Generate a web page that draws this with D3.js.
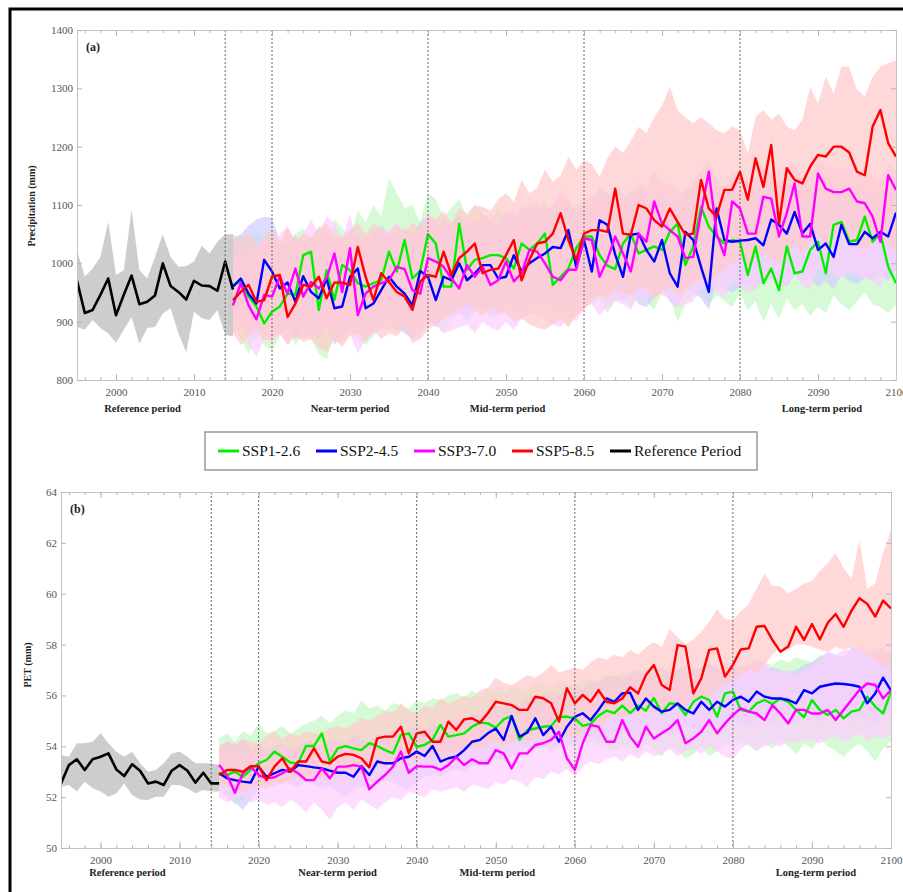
<!DOCTYPE html>
<html>
<head>
<meta charset="utf-8">
<script src="https://cdn.jsdelivr.net/npm/d3@7"></script>
<style>
  body { margin: 0; background: #fff; }
  svg text { font-family: "Liberation Serif", "Times New Roman", "DejaVu Serif", serif; }
  .axis .domain { stroke: #c4c4c4; }
  .axis line { stroke: #b4b4b4; }
  .axis text { fill: #555; font-size: 11px; }
</style>
</head>
<body>
<script>
"use strict";

var width = 903,
    height = 892;

// years
var refYears = d3.range(1995, 2016),
    sspYears = d3.range(2015, 2101),
    periodBreaks = [2014, 2020, 2040, 2060, 2080],
    xTickYears = d3.range(2000, 2101, 10),
    xMinorYears = d3.range(1996, 2101, 2),
    periodNames = ["Reference period", "Near-term period", "Mid-term period", "Long-term period"],
    periodCentres = [2003.4, 2030, 2050.2, 2090.5];

var seriesNames = ["SSP1-2.6", "SSP2-4.5", "SSP3-7.0", "SSP5-8.5", "Reference Period"],
    seriesColors = ["#00f000", "#0000ff", "#ff00ff", "#ff0000", "#000000"],
    bandColors = ["#c6f7c6", "#cfcffd", "#fccffc", "#ffcaca"];

// ---------- (a) precipitation (mm) ----------
var precipTicks = d3.range(800, 1401, 100);

var precipRef = [970, 915, 920, 946, 974, 911, 946, 979, 930, 934, 945, 1000, 961, 951, 938, 970, 962, 961, 953, 1003, 955];
var precipRefHi = [1023, 977, 991, 1011, 1071, 980, 988, 1092, 988, 974, 1011, 1050, 1011, 994, 995, 1003, 1030, 1017, 1037, 1050, 1050];
var precipRefLo = [891, 886, 903, 889, 880, 864, 886, 908, 862, 889, 891, 914, 923, 880, 847, 917, 906, 903, 920, 877, 875];

var precipSsp126 = [963, 968, 943, 926, 897, 917, 926, 948, 946, 1014, 1020, 920, 988, 937, 997, 988, 966, 960, 966, 971,
  1020, 986, 1040, 974, 987, 1050, 1034, 960, 960, 1068, 989, 1006, 1009, 1014, 1014, 1009, 991, 1034, 1023, 1034,
  1051, 963, 977, 991, 1026, 1046, 1046, 1014, 996, 990, 1034, 1051, 1017, 1023, 1029, 1023, 1054, 1068, 997, 1029,
  1097, 1063, 1046, 1034, 1040, 1037, 980, 1029, 966, 991, 954, 1029, 983, 986, 1023, 1037, 983, 1066, 1071, 1037,
  1040, 1080, 1037, 1051, 994, 966];
var precipSsp245 = [960, 974, 948, 931, 1006, 986, 957, 967, 934, 978, 951, 940, 974, 923, 926, 977, 991, 923, 931, 954,
  977, 960, 948, 928, 987, 977, 937, 977, 971, 1000, 971, 983, 997, 997, 974, 977, 1014, 986, 1000, 1009,
  1017, 1028, 1026, 1057, 994, 1040, 986, 1074, 1066, 1015, 977, 1049, 1051, 1023, 1003, 1040, 983, 960, 1054, 1040,
  994, 951, 1094, 1040, 1037, 1039, 1040, 1043, 1031, 1075, 1066, 1051, 1088, 1051, 1068, 1023, 1034, 1011, 1066, 1033,
  1033, 1054, 1043, 1054, 1046, 1087];
var precipSsp370 = [928, 966, 928, 904, 946, 943, 977, 948, 991, 943, 968, 957, 974, 1017, 951, 1026, 911, 948, 960, 966,
  971, 994, 990, 954, 948, 1009, 1003, 994, 974, 957, 997, 977, 994, 963, 971, 1003, 969, 983, 1023, 1020,
  1000, 977, 971, 989, 989, 1043, 1040, 977, 1006, 1046, 1017, 986, 1051, 1037, 1106, 1068, 1057, 1046, 1009, 1011,
  1086, 1157, 1051, 1014, 1106, 1094, 1051, 1051, 1114, 1111, 1046, 1086, 1137, 1046, 1046, 1154, 1128, 1122, 1122, 1128,
  1106, 1103, 1080, 1037, 1151, 1126];
var precipSsp585 = [937, 951, 963, 934, 937, 977, 980, 908, 931, 963, 960, 977, 940, 967, 967, 963, 1028, 977, 937, 983,
  968, 951, 943, 920, 969, 980, 977, 1020, 980, 1009, 1020, 1034, 983, 989, 991, 1014, 1040, 971, 1006, 1034,
  1037, 1051, 1086, 1040, 1006, 1051, 1057, 1057, 1054, 1128, 1051, 1049, 1100, 1094, 1074, 1063, 1094, 1071, 1049, 1051,
  1143, 1094, 1080, 1126, 1126, 1157, 1109, 1180, 1131, 1203, 1068, 1163, 1143, 1137, 1166, 1186, 1183, 1200, 1200, 1190,
  1157, 1151, 1234, 1263, 1206, 1183];

var precipSsp126Hi = [1045, 1050, 1040, 1060, 1035, 1055, 1030, 1020, 1050, 1060, 1040, 1065, 1030, 1075, 1060, 1045, 1090, 1070, 1100, 1080,
  1146, 1120, 1095, 1100, 1070, 1120, 1110, 1080, 1095, 1110, 1080, 1100, 1085, 1070, 1095, 1080, 1060, 1100, 1080, 1090,
  1110, 1070, 1090, 1080, 1100, 1110, 1095, 1090, 1080, 1100, 1110, 1120, 1090, 1105, 1130, 1095, 1110, 1120, 1090, 1120,
  1140, 1110, 1100, 1120, 1130, 1100, 1090, 1110, 1080, 1100, 1090, 1120, 1100, 1110, 1130, 1140, 1100, 1150, 1130, 1120,
  1140, 1150, 1120, 1130, 1100, 1080];
var precipSsp126Lo = [900, 870, 845, 880, 860, 850, 875, 890, 860, 880, 870, 845, 835, 880, 860, 885, 870, 860, 875, 890,
  900, 880, 890, 870, 900, 910, 895, 880, 905, 920, 900, 915, 930, 905, 920, 935, 910, 925, 940, 920,
  935, 900, 920, 890, 930, 945, 930, 940, 915, 935, 940, 925, 950, 935, 920, 950, 940, 900, 930, 945,
  950, 930, 945, 935, 925, 950, 920, 935, 900, 930, 905, 940, 920, 930, 910, 925, 915, 945, 930, 920,
  935, 950, 930, 925, 915, 930];
var precipSsp245Hi = [1040, 1050, 1065, 1075, 1080, 1078, 1040, 1030, 1050, 1020, 1045, 1030, 1055, 1035, 1040, 1060, 1045, 1030, 1050, 1065,
  1050, 1040, 1060, 1045, 1070, 1080, 1050, 1075, 1065, 1085, 1060, 1070, 1080, 1075, 1060, 1090, 1085, 1070, 1095, 1080,
  1090, 1100, 1095, 1110, 1085, 1105, 1100, 1130, 1120, 1110, 1100, 1125, 1130, 1110, 1100, 1120, 1105, 1090, 1130, 1120,
  1110, 1100, 1150, 1120, 1115, 1125, 1120, 1130, 1110, 1140, 1130, 1120, 1145, 1125, 1130, 1110, 1120, 1100, 1130, 1115,
  1110, 1125, 1115, 1120, 1110, 1140];
var precipSsp245Lo = [900, 910, 880, 870, 905, 890, 880, 895, 870, 900, 885, 870, 900, 860, 875, 890, 905, 870, 880, 895,
  900, 890, 880, 870, 900, 905, 890, 910, 905, 915, 905, 920, 925, 915, 910, 925, 935, 920, 930, 940,
  945, 950, 940, 955, 935, 960, 940, 965, 955, 945, 935, 950, 930, 925, 940, 955, 935, 925, 960, 950,
  940, 920, 965, 955, 950, 960, 965, 955, 970, 975, 965, 960, 980, 970, 975, 960, 970, 955, 980, 970,
  965, 975, 970, 980, 970, 990];
var precipSsp370Hi = [1000, 1020, 1010, 1030, 1040, 1025, 1050, 1063, 1030, 1050, 1075, 1050, 1080, 1070, 1040, 1085, 1030, 1050, 1045, 1060,
  1055, 1070, 1050, 1045, 1060, 1086, 1075, 1060, 1070, 1065, 1080, 1070, 1085, 1075, 1070, 1090, 1080, 1095, 1100, 1105,
  1090, 1100, 1126, 1105, 1095, 1110, 1120, 1100, 1115, 1125, 1120, 1110, 1140, 1130, 1160, 1140, 1135, 1130, 1120, 1140,
  1160, 1178, 1140, 1130, 1160, 1150, 1140, 1145, 1165, 1160, 1140, 1160, 1175, 1145, 1150, 1180, 1170, 1165, 1160, 1170,
  1160, 1155, 1150, 1140, 1170, 1160];
var precipSsp370Lo = [880, 890, 860, 840, 870, 865, 880, 860, 890, 870, 880, 875, 890, 870, 865, 880, 845, 870, 880, 890,
  885, 895, 890, 870, 875, 900, 895, 880, 885, 890, 895, 880, 900, 890, 885, 900, 886, 905, 915, 910,
  905, 895, 890, 910, 900, 925, 930, 910, 925, 935, 930, 920, 945, 935, 955, 945, 940, 925, 930, 935,
  955, 970, 950, 940, 965, 960, 950, 955, 975, 970, 955, 965, 985, 960, 955, 990, 985, 980, 975, 985,
  980, 975, 970, 960, 990, 985];
var precipSsp585Hi = [1050, 1040, 1055, 1030, 1045, 1060, 1035, 1063, 1040, 1050, 1045, 1060, 1068, 1050, 1045, 1055, 1070, 1050, 1068, 1060,
  1050, 1065, 1055, 1070, 1060, 1080, 1075, 1090, 1070, 1095, 1085, 1100, 1097, 1090, 1110, 1120, 1105, 1143, 1120, 1130,
  1160, 1140, 1150, 1183, 1160, 1177, 1170, 1148, 1180, 1200, 1190, 1210, 1234, 1223, 1250, 1270, 1303, 1263, 1250, 1240,
  1251, 1240, 1228, 1223, 1235, 1228, 1188, 1251, 1263, 1246, 1257, 1234, 1228, 1246, 1303, 1274, 1320, 1291, 1337, 1337,
  1297, 1286, 1320, 1337, 1343, 1348];
var precipSsp585Lo = [880, 860, 875, 890, 868, 870, 880, 860, 875, 865, 870, 855, 848, 870, 857, 875, 880, 865, 885, 870,
  880, 875, 890, 863, 870, 886, 895, 905, 915, 920, 931, 920, 910, 925, 915, 914, 900, 905, 895, 890,
  886, 895, 905, 890, 910, 920, 935, 945, 940, 955, 950, 945, 960, 955, 940, 950, 960, 945, 955, 965,
  975, 960, 980, 990, 1000, 1010, 995, 1010, 1020, 1005, 1000, 1020, 1030, 1015, 1040, 1050, 1030, 1045, 1060, 1040,
  1030, 1020, 1040, 1050, 1030, 1020];

// ---------- (b) PET (mm) ----------
var petTicks = d3.range(50, 65, 2);

var petRef = [52.54, 53.26, 53.49, 53.07, 53.49, 53.59, 53.72, 53.09, 52.83, 53.29, 53.04, 52.54, 52.61, 52.48, 53.04, 53.26, 53.04, 52.57, 52.96, 52.54, 52.54];
var petRefHi = [53.66, 53.59, 54.12, 54.12, 54.18, 54.51, 54.12, 53.79, 53.59, 53.79, 53.33, 53.0, 53.07, 53.33, 53.72, 53.79, 53.59, 53.33, 53.33, 53.33, 53.26];
var petRefLo = [52.41, 52.48, 52.22, 52.61, 52.35, 52.22, 52.02, 52.15, 52.54, 52.08, 51.91, 51.89, 52.02, 52.02, 52.48, 52.48, 52.35, 52.15, 52.28, 52.22, 52.22];

var petSsp126 = [52.94, 52.87, 53.0, 52.8, 53.07, 53.33, 53.46, 53.79, 53.59, 53.36, 53.33, 54.01, 54.01, 54.51, 53.4, 53.92, 54.01, 53.92, 53.85, 54.12,
  54.01, 53.85, 53.72, 54.44, 54.51, 53.98, 54.05, 54.25, 54.84, 54.38, 54.44, 54.51, 54.77, 54.93, 54.9, 54.73, 55.06, 55.19, 54.25, 54.64,
  54.7, 54.77, 54.8, 55.16, 55.16, 55.1, 54.8, 54.88, 55.2, 55.4, 55.3, 55.6, 55.3, 55.6, 55.4, 55.9, 55.3, 55.69, 55.66, 55.23,
  55.75, 55.95, 55.82, 55.16, 56.08, 56.15, 55.43, 55.36, 55.69, 55.82, 55.66, 55.88, 55.75, 55.43, 55.14, 55.82, 55.43, 55.23, 55.43, 55.1,
  55.36, 55.43, 55.95, 55.56, 55.29, 56.15];
var petSsp245 = [52.94, 52.74, 52.67, 52.61, 52.57, 53.2, 52.8, 52.94, 53.07, 53.0, 53.26, 53.22, 53.17, 53.13, 53.04, 52.96, 52.96, 52.8, 53.22, 52.87,
  53.4, 53.33, 53.33, 53.53, 53.59, 53.79, 53.62, 54.01, 53.4, 53.53, 53.59, 53.85, 54.18, 54.25, 54.51, 54.7, 54.25, 55.19, 54.38, 54.54,
  55.1, 54.44, 54.77, 54.18, 54.77, 55.16, 55.3, 55.03, 55.43, 55.88, 55.75, 56.08, 56.11, 55.43, 55.88, 55.56, 55.36, 55.43, 55.69, 55.43,
  55.29, 55.75, 55.43, 55.75, 55.56, 55.82, 55.95, 55.75, 56.15, 55.95, 55.88, 55.88, 55.82, 55.69, 56.21, 56.08, 56.34, 56.41, 56.47, 56.45,
  56.41, 56.34, 55.69, 56.08, 56.7, 56.19];
var petSsp370 = [53.26, 52.87, 52.17, 52.94, 53.2, 52.87, 52.74, 52.78, 52.94, 53.13, 52.94, 52.67, 52.67, 53.13, 52.74, 53.2, 53.2, 53.26, 53.2, 52.31,
  52.61, 52.87, 53.2, 53.79, 52.96, 53.22, 53.2, 53.2, 53.07, 53.26, 53.57, 53.26, 53.49, 53.33, 53.33, 53.85, 53.72, 53.13, 53.72, 53.72,
  54.05, 54.12, 54.25, 54.57, 53.53, 53.07, 54.12, 54.84, 54.77, 54.18, 54.18, 55.03, 54.38, 53.98, 54.77, 54.31, 54.51, 54.71, 55.03, 54.12,
  54.31, 54.57, 55.03, 54.51, 54.9, 55.23, 55.49, 55.36, 55.29, 55.03, 55.62, 55.29, 54.9, 55.43, 55.43, 55.29, 55.29, 55.43, 55.03, 55.43,
  55.82, 56.21, 56.47, 56.41, 55.88, 56.21];
var petSsp585 = [52.87, 53.07, 53.07, 53.0, 53.22, 53.22, 52.67, 53.2, 53.53, 53.0, 53.4, 53.4, 53.92, 53.4, 53.33, 53.59, 53.7, 53.66, 53.53, 53.17,
  54.31, 54.38, 54.38, 54.77, 53.72, 54.51, 54.57, 54.18, 54.18, 54.97, 54.64, 55.06, 55.1, 54.93, 55.3, 55.75, 55.69, 55.62, 55.43, 55.43,
  55.95, 55.89, 55.69, 54.97, 56.28, 55.69, 56.02, 55.75, 56.21, 55.75, 55.69, 55.88, 56.32, 56.08, 56.8, 57.2, 56.41, 56.21, 57.98, 57.92,
  56.08, 56.67, 57.79, 57.85, 56.74, 57.2, 57.81, 57.85, 58.7, 58.73, 58.18, 57.72, 57.92, 58.7, 58.18, 58.81, 58.2, 58.86, 59.2, 58.7,
  59.33, 59.82, 59.6, 59.1, 59.73, 59.42];

var petSsp126Hi = [54.3, 54.5, 54.2, 54.6, 54.4, 54.9, 54.5, 54.6, 54.8, 54.5, 54.7, 54.9, 55.0, 55.2, 54.9, 55.2, 55.4, 55.3, 55.8, 55.5,
  55.6, 55.4, 55.7, 55.6, 55.5, 55.8, 55.7, 55.9, 55.8, 56.0, 56.1, 55.9, 56.2, 56.0, 56.3, 56.2, 56.1, 56.4, 56.3, 56.2,
  56.5, 56.4, 56.3, 56.6, 56.5, 56.4, 56.7, 56.5, 56.6, 56.8, 56.7, 56.9, 56.8, 56.7, 57.0, 56.9, 56.8, 57.1, 57.0, 56.9,
  57.1, 57.0, 57.2, 57.1, 57.0, 57.3, 57.2, 57.1, 57.4, 57.3, 57.2, 57.4, 57.3, 57.5, 57.4, 57.3, 57.6, 57.5, 57.4, 57.6,
  57.5, 57.7, 57.6, 57.5, 57.7, 57.6];
var petSsp126Lo = [52.6, 52.1, 51.7, 51.9, 52.4, 52.5, 52.6, 52.8, 52.7, 52.9, 53.0, 52.8, 53.1, 53.0, 52.9, 53.2, 53.1, 53.0, 53.3, 53.2,
  53.1, 53.3, 53.2, 53.4, 53.3, 53.3, 53.5, 53.4, 53.6, 53.5, 53.5, 53.7, 53.6, 53.8, 53.7, 53.8, 53.9, 53.7, 53.9, 54.0,
  53.9, 54.0, 54.1, 53.9, 54.0, 54.0, 54.1, 54.2, 54.0, 53.9, 53.8, 54.0, 53.9, 53.7, 54.1, 53.9, 53.6, 54.0, 53.8, 53.5,
  53.7, 54.0, 53.6, 53.8, 54.1, 53.9, 54.2, 54.0, 53.8, 54.1, 53.9, 54.2, 54.0, 53.7, 54.1, 53.9, 54.3, 54.0, 53.8, 53.6,
  53.9, 54.1, 53.8, 53.4, 53.9, 54.2];
var petSsp245Hi = [53.8, 54.2, 54.0, 54.3, 53.9, 54.1, 53.8, 54.0, 54.1, 53.9, 54.0, 54.2, 54.1, 54.0, 54.3, 54.2, 54.1, 54.4, 54.3, 54.2,
  54.5, 54.4, 54.6, 54.5, 54.7, 54.8, 54.6, 54.9, 54.8, 55.0, 55.1, 55.0, 55.3, 55.2, 55.4, 55.6, 55.5, 55.8, 55.6, 55.9,
  56.0, 55.9, 56.1, 56.0, 56.3, 56.4, 56.2, 56.6, 56.5, 56.7, 56.8, 56.6, 56.9, 57.0, 56.8, 56.9, 57.1, 56.9, 57.0, 57.2,
  57.0, 57.1, 57.3, 57.0, 57.2, 57.3, 57.1, 57.2, 57.4, 57.1, 57.1, 57.0, 56.9, 57.0, 57.2, 57.3, 57.5, 57.7, 57.6, 57.5,
  57.9, 57.8, 57.6, 57.7, 57.5, 57.4];
var petSsp245Lo = [52.3, 52.0, 51.8, 51.5, 51.9, 52.3, 52.5, 52.4, 52.6, 52.5, 52.4, 52.6, 52.5, 52.3, 52.4, 52.2, 52.0, 52.3, 52.4, 52.6,
  52.5, 52.7, 52.6, 52.4, 52.3, 52.6, 52.8, 52.9, 52.8, 53.0, 53.1, 53.0, 53.2, 53.3, 53.4, 53.5, 53.4, 53.6, 53.7, 53.8,
  53.9, 54.0, 53.8, 54.1, 54.2, 54.0, 54.3, 54.4, 54.2, 54.5, 54.4, 54.6, 54.5, 54.3, 54.6, 54.7, 54.5, 54.4, 54.6, 54.8,
  54.7, 54.6, 54.9, 54.8, 54.7, 55.0, 54.9, 54.8, 55.1, 55.0, 54.9, 55.1, 55.0, 54.8, 55.2, 55.1, 55.0, 55.3, 55.2, 55.1,
  55.0, 55.2, 55.1, 54.9, 55.3, 55.2];
var petSsp370Hi = [53.9, 53.6, 53.8, 53.5, 53.9, 53.7, 53.8, 53.6, 53.9, 53.7, 53.8, 54.0, 53.7, 53.9, 54.1, 53.8, 54.0, 54.2, 53.9, 54.1,
  54.0, 54.2, 54.3, 54.5, 54.2, 54.4, 54.6, 54.3, 54.5, 54.7, 54.6, 54.8, 54.7, 54.9, 55.0, 55.2, 55.0, 55.1, 55.3, 55.2,
  55.4, 55.5, 55.6, 55.8, 55.5, 55.7, 55.9, 56.0, 56.2, 56.0, 56.3, 56.2, 56.4, 56.3, 56.6, 56.5, 56.7, 56.6, 56.8, 56.9,
  56.8, 57.0, 57.1, 56.9, 57.2, 57.3, 57.1, 57.2, 57.4, 57.3, 57.0, 56.9, 57.0, 56.8, 57.0, 57.2, 57.4, 57.7, 57.6, 57.8,
  57.8, 57.9, 57.7, 57.8, 57.9, 57.6];
var petSsp370Lo = [52.0, 51.8, 51.9, 52.1, 51.8, 51.9, 51.7, 51.8, 51.6, 51.9, 51.7, 51.4, 51.8, 51.5, 51.1, 51.6, 51.8, 51.5, 51.9, 51.7,
  51.5, 51.8, 52.0, 51.9, 52.2, 52.1, 52.0, 52.3, 52.2, 52.3, 52.4, 52.2, 52.5, 52.4, 52.3, 52.6, 52.5, 52.7, 52.6, 52.4,
  52.8, 52.7, 53.0, 52.9, 53.1, 52.8, 53.2, 53.4, 53.3, 53.5, 53.6, 53.4, 53.7, 53.5, 53.8, 53.6, 53.7, 53.9, 53.6, 53.8,
  53.9, 53.7, 54.0, 53.8, 53.6, 53.5, 53.9, 54.1, 53.8, 54.0, 54.1, 54.0, 54.2, 54.1, 54.3, 54.25, 54.1, 54.3, 54.4, 54.2,
  54.3, 54.5, 54.2, 54.4, 54.3, 54.5];
var petSsp585Hi = [54.0, 54.2, 54.1, 54.3, 54.2, 54.1, 54.4, 54.6, 54.3, 54.5, 54.4, 54.6, 54.5, 54.5, 54.7, 54.8, 54.7, 54.9, 55.1, 55.0,
  55.2, 55.4, 55.3, 55.7, 55.4, 55.3, 55.6, 55.5, 55.9, 55.7, 55.8, 56.0, 55.9, 56.2, 56.3, 56.7, 56.5, 56.4, 56.6, 56.8,
  56.7, 56.9, 57.2, 56.9, 57.0, 57.1, 57.0, 57.3, 57.5, 57.4, 57.6, 57.5, 57.8, 57.6, 57.9, 58.1, 57.9, 58.6, 58.3, 58.0,
  58.2, 58.5, 58.9, 59.4, 59.0, 59.0, 59.3, 59.6, 60.2, 60.8, 60.3, 60.3, 60.0, 60.2, 60.4, 60.5, 60.9, 61.2, 61.6, 61.0,
  60.6, 62.1, 60.2, 60.4, 61.6, 62.5];
var petSsp585Lo = [52.4, 52.5, 52.3, 52.2, 52.4, 52.5, 52.3, 52.6, 52.5, 52.7, 52.8, 52.6, 52.9, 52.8, 52.7, 52.9, 53.0, 53.1, 52.9, 53.2,
  53.3, 53.2, 53.4, 53.3, 53.5, 53.4, 53.6, 53.7, 53.5, 53.7, 53.8, 53.9, 54.0, 53.9, 54.1, 54.2, 54.0, 54.1, 54.3, 54.2,
  54.3, 54.4, 54.2, 54.5, 54.4, 54.3, 54.6, 54.7, 54.6, 55.0, 55.2, 55.1, 55.3, 55.2, 55.4, 55.3, 55.5, 55.4, 55.7, 55.6,
  55.9, 55.8, 56.0, 56.2, 56.4, 56.6, 56.8, 57.0, 56.9, 57.2, 57.6, 57.9, 57.8, 58.0, 58.0, 57.9, 57.8, 57.7, 57.9, 57.8,
  57.9, 57.8, 57.6, 57.4, 57.2, 57.0];

var serif = "Liberation Serif, Times New Roman, DejaVu Serif, serif";

var svg = d3.select("body").append("svg")
    .attr("width", width)
    .attr("height", height)
    .attr("font-family", serif);

// outer frame
svg.append("path")
    .attr("d", "M10," + height + "V9H" + width)
    .attr("fill", "none")
    .attr("stroke", "#000")
    .attr("stroke-width", 3);

var panels = [
    {
        id: "a", label: "(a)", title: "Precipitation (mm)",
        left: 77, right: 896, top: 30, bottom: 380,
        yDomain: [800, 1400], yTicks: precipTicks,
        ref: [precipRef, precipRefLo, precipRefHi],
        ssp: [[precipSsp126, precipSsp126Lo, precipSsp126Hi],
              [precipSsp245, precipSsp245Lo, precipSsp245Hi],
              [precipSsp370, precipSsp370Lo, precipSsp370Hi],
              [precipSsp585, precipSsp585Lo, precipSsp585Hi]],
        titleX: 35, titleY: 206, periodY: 412
    },
    {
        id: "b", label: "(b)", title: "PET (mm)",
        left: 61, right: 891, top: 492, bottom: 848,
        yDomain: [50, 64], yTicks: petTicks,
        ref: [petRef, petRefLo, petRefHi],
        ssp: [[petSsp126, petSsp126Lo, petSsp126Hi],
              [petSsp245, petSsp245Lo, petSsp245Hi],
              [petSsp370, petSsp370Lo, petSsp370Hi],
              [petSsp585, petSsp585Lo, petSsp585Hi]],
        titleX: 31, titleY: 665, periodY: 876
    }
];

panels.forEach(drawPanel);

function drawPanel(p) {
    var x = d3.scaleLinear().domain([1995, 2100]).range([p.left, p.right]);
    var y = d3.scaleLinear().domain(p.yDomain).range([p.bottom, p.top]);
    var g = svg.append("g").attr("class", "panel-" + p.id);

    g.append("clipPath").attr("id", "clip-" + p.id)
      .append("rect")
        .attr("x", p.left).attr("y", p.top)
        .attr("width", p.right - p.left).attr("height", p.bottom - p.top);

    var plot = g.append("g").attr("clip-path", "url(#clip-" + p.id + ")");

    function band(years, lo, hi) {
        return d3.area()
            .x(function (d, i) { return x(years[i]); })
            .y0(function (d, i) { return y(lo[i]); })
            .y1(function (d, i) { return y(hi[i]); })(lo);
    }
    function line(years, vals) {
        return d3.line()
            .x(function (d, i) { return x(years[i]); })
            .y(function (d) { return y(d); })(vals);
    }

    // uncertainty bands (light, mostly opaque, SSP5-8.5 on top)
    plot.append("path")
        .attr("d", band(refYears, p.ref[1], p.ref[2]))
        .attr("fill", "#cdcdcd");

    p.ssp.forEach(function (s, k) {
        plot.append("path")
            .attr("d", band(sspYears, s[1], s[2]))
            .attr("fill", bandColors[k]).attr("fill-opacity", 0.72);
    });

    // period separators
    g.selectAll(".period-line")
        .data(periodBreaks)
        .enter().append("line")
        .attr("x1", function (d) { return x(d); })
        .attr("x2", function (d) { return x(d); })
        .attr("y1", p.top).attr("y2", p.bottom)
        .attr("stroke", "#666").attr("stroke-width", 1)
        .attr("stroke-dasharray", "2,2");

    // series lines
    p.ssp.forEach(function (s, k) {
        plot.append("path")
            .attr("d", line(sspYears, s[0]))
            .attr("fill", "none")
            .attr("stroke", seriesColors[k])
            .attr("stroke-width", 2.4)
            .attr("stroke-linejoin", "round");
    });
    plot.append("path")
        .attr("d", line(refYears, p.ref[0]))
        .attr("fill", "none")
        .attr("stroke", "#000")
        .attr("stroke-width", 2.6)
        .attr("stroke-linejoin", "round");

    // axes
    var fmt = d3.format("d");
    function styleAxis(sel) {
        sel.attr("font-family", serif).attr("font-size", 11);
    }
    g.append("g").attr("class", "axis")
        .attr("transform", "translate(0," + p.bottom + ")")
        .call(d3.axisBottom(x).tickValues(xTickYears).tickSize(-6).tickSizeOuter(0).tickPadding(8).tickFormat(fmt))
        .call(styleAxis);
    g.append("g").attr("class", "axis")
        .attr("transform", "translate(0," + p.bottom + ")")
        .call(d3.axisBottom(x).tickValues(xMinorYears).tickSize(-3).tickSizeOuter(0).tickFormat(""));
    g.append("g").attr("class", "axis")
        .attr("transform", "translate(0," + p.top + ")")
        .call(d3.axisTop(x).tickValues(xTickYears).tickSize(-6).tickSizeOuter(0).tickFormat(""));
    g.append("g").attr("class", "axis")
        .attr("transform", "translate(0," + p.top + ")")
        .call(d3.axisTop(x).tickValues(xMinorYears).tickSize(-3).tickSizeOuter(0).tickFormat(""));
    g.append("g").attr("class", "axis")
        .attr("transform", "translate(" + p.left + ",0)")
        .call(d3.axisLeft(y).tickValues(p.yTicks).tickSize(-5).tickSizeOuter(0).tickPadding(4).tickFormat(fmt))
        .call(styleAxis);
    g.append("g").attr("class", "axis")
        .attr("transform", "translate(" + p.right + ",0)")
        .call(d3.axisRight(y).tickValues(p.yTicks).tickSize(-5).tickSizeOuter(0).tickFormat(""));

    // panel letter
    g.append("text")
        .attr("x", p.left + 9).attr("y", p.top + 21)
        .attr("font-size", 12).attr("font-weight", "bold")
        .attr("fill", "#222")
        .text(p.label);

    // y title
    g.append("text")
        .attr("transform", "translate(" + p.titleX + "," + p.titleY + ") rotate(-90)")
        .attr("text-anchor", "middle")
        .attr("font-size", 10)
        .attr("font-weight", "bold")
        .attr("fill", "#222")
        .text(p.title);

    // period names
    g.selectAll(".period-name")
        .data(periodNames)
        .enter().append("text")
        .attr("x", function (d, i) { return x(periodCentres[i]); })
        .attr("y", p.periodY)
        .attr("text-anchor", "middle")
        .attr("font-size", 10.5)
        .attr("font-weight", "bold")
        .attr("fill", "#222")
        .text(function (d) { return d; });
}

// legend
var legend = svg.append("g").attr("class", "legend");
legend.append("rect")
    .attr("x", 205).attr("y", 432)
    .attr("width", 552).attr("height", 38)
    .attr("fill", "#fff")
    .attr("stroke", "#999")
    .attr("stroke-width", 1.5);

var item = legend.selectAll(".item")
    .data(seriesNames)
    .enter().append("g")
    .attr("transform", function (d, i) { return "translate(" + (218 + i * 98) + ",451)"; });
item.append("line")
    .attr("x1", 0).attr("x2", 21)
    .attr("stroke", function (d, i) { return seriesColors[i]; })
    .attr("stroke-width", 3);
item.append("text")
    .attr("x", 24).attr("dy", "0.35em")
    .attr("font-size", 15.5)
    .attr("fill", "#111")
    .text(function (d) { return d; });
</script>
</body>
</html>
